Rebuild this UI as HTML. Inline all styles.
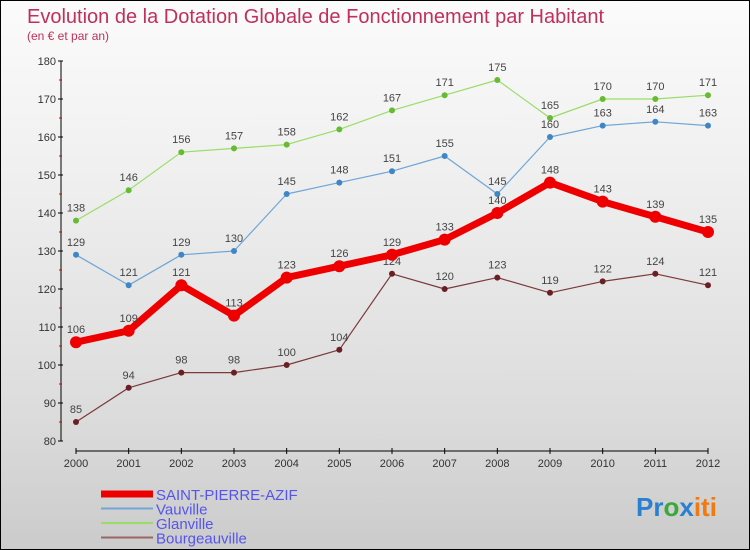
<!DOCTYPE html>
<html><head><meta charset="utf-8"><style>
body{margin:0}
#c{position:relative;width:748px;height:548px;border:1px solid #000;background:linear-gradient(#fbfbfb,#f0f0f0 30%,#dcdcdc 75%,#cbcbcb);font-family:"Liberation Sans",sans-serif;overflow:hidden}
svg{position:absolute;left:0;top:0}
</style></head><body>
<div id="c">
<svg id="s" width="750" height="550" font-family="Liberation Sans, sans-serif">
<text x="26" y="22" font-size="20" fill="#c0305a">Evolution de la Dotation Globale de Fonctionnement par Habitant</text>
<text x="26" y="39" font-size="12" fill="#c0305a">(en € et par an)</text>
<text x="635" y="515" font-size="26" font-weight="bold"><tspan fill="#2a7fd0">Pr</tspan><tspan fill="#3aa83a">o</tspan><tspan fill="#2a7fd0">x</tspan><tspan fill="#f07a10">iti</tspan></text>
</svg>
</div>
<script>
const years=[2000,2001,2002,2003,2004,2005,2006,2007,2008,2009,2010,2011,2012];
const yTicks=[80,90,100,110,120,130,140,150,160,170,180];
const saint=[106,109,121,113,123,126,129,133,140,148,143,139,135];
const vauville=[129,121,129,130,145,148,151,155,145,160,163,164,163];
const glanville=[138,146,156,157,158,162,167,171,175,165,170,170,171];
const bourg=[85,94,98,98,100,104,124,120,123,119,122,124,121];
const NS='http://www.w3.org/2000/svg';
const s=document.getElementById('s');
const X=i=>75+i*(632/(years.length-1));
const Y=v=>440-(v-80)*3.8;
function el(t,a,name){const e=document.createElementNS(NS,t);for(const k in a)e.setAttribute(k,a[k]);


s.appendChild(e);return e;}
el('line',{x1:60,y1:Y(180),x2:60,y2:440,stroke:'#000'},'y-axis');
el('line',{x1:75,y1:450,x2:707,y2:450,stroke:'#000'},'x-axis');
yTicks.forEach(v=>{el('line',{x1:57,y1:Y(v),x2:62,y2:Y(v),stroke:'#000'},'y-tick');
const t=el('text',{x:55,y:Y(v)+4,'font-size':11,'text-anchor':'end',fill:'#333'},'y-tick-label');t.textContent=v;
if(v<180)el('line',{x1:58,y1:Y(v+5),x2:61,y2:Y(v+5),stroke:'#d00'},'y-minor-tick');});
years.forEach((y,i)=>{el('line',{x1:X(i),y1:447,x2:X(i),y2:453,stroke:'#000'},'x-tick');
const t=el('text',{x:X(i),y:466,'font-size':11,'text-anchor':'middle',fill:'#333'},'x-tick-label');t.textContent=y;});
function series(d,color,dot,w,r,name){
el('polyline',{points:d.map((v,i)=>X(i)+','+Y(v)).join(' '),fill:'none',stroke:color,'stroke-width':w,'stroke-linejoin':'round'},name+'-line');
d.forEach((v,i)=>{el('circle',{cx:X(i),cy:Y(v),r:r,fill:dot},name+'-point');
const t=el('text',{x:X(i),y:Y(v)-9,'font-size':11,'text-anchor':'middle',fill:'#444'},name+'-value');t.textContent=v;});}
series(glanville,'#99dd66','#66bb33',1.2,3,'glanville');
series(vauville,'#6fa6d6','#3f86c6',1.2,3,'vauville');
series(bourg,'#7a3a3a','#6a1f24',1.2,3,'bourgeauville');
series(saint,'#ee0000','#ee0000',7,6,'saint-pierre-azif');
const leg=[['SAINT-PIERRE-AZIF','#ee0000',7],['Vauville','#6fa6d6',2],['Glanville','#99dd66',2],['Bourgeauville','#996666',2]];
leg.forEach((l,i)=>{const y=493+i*14.5;
el('line',{x1:100,y1:y,x2:152,y2:y,stroke:l[1],'stroke-width':l[2]},'legend-swatch');
const t=el('text',{x:155,y:y+6,'font-size':15,fill:'#5555ee'},'legend-entry');t.textContent=l[0];});
</script>
</body></html>
